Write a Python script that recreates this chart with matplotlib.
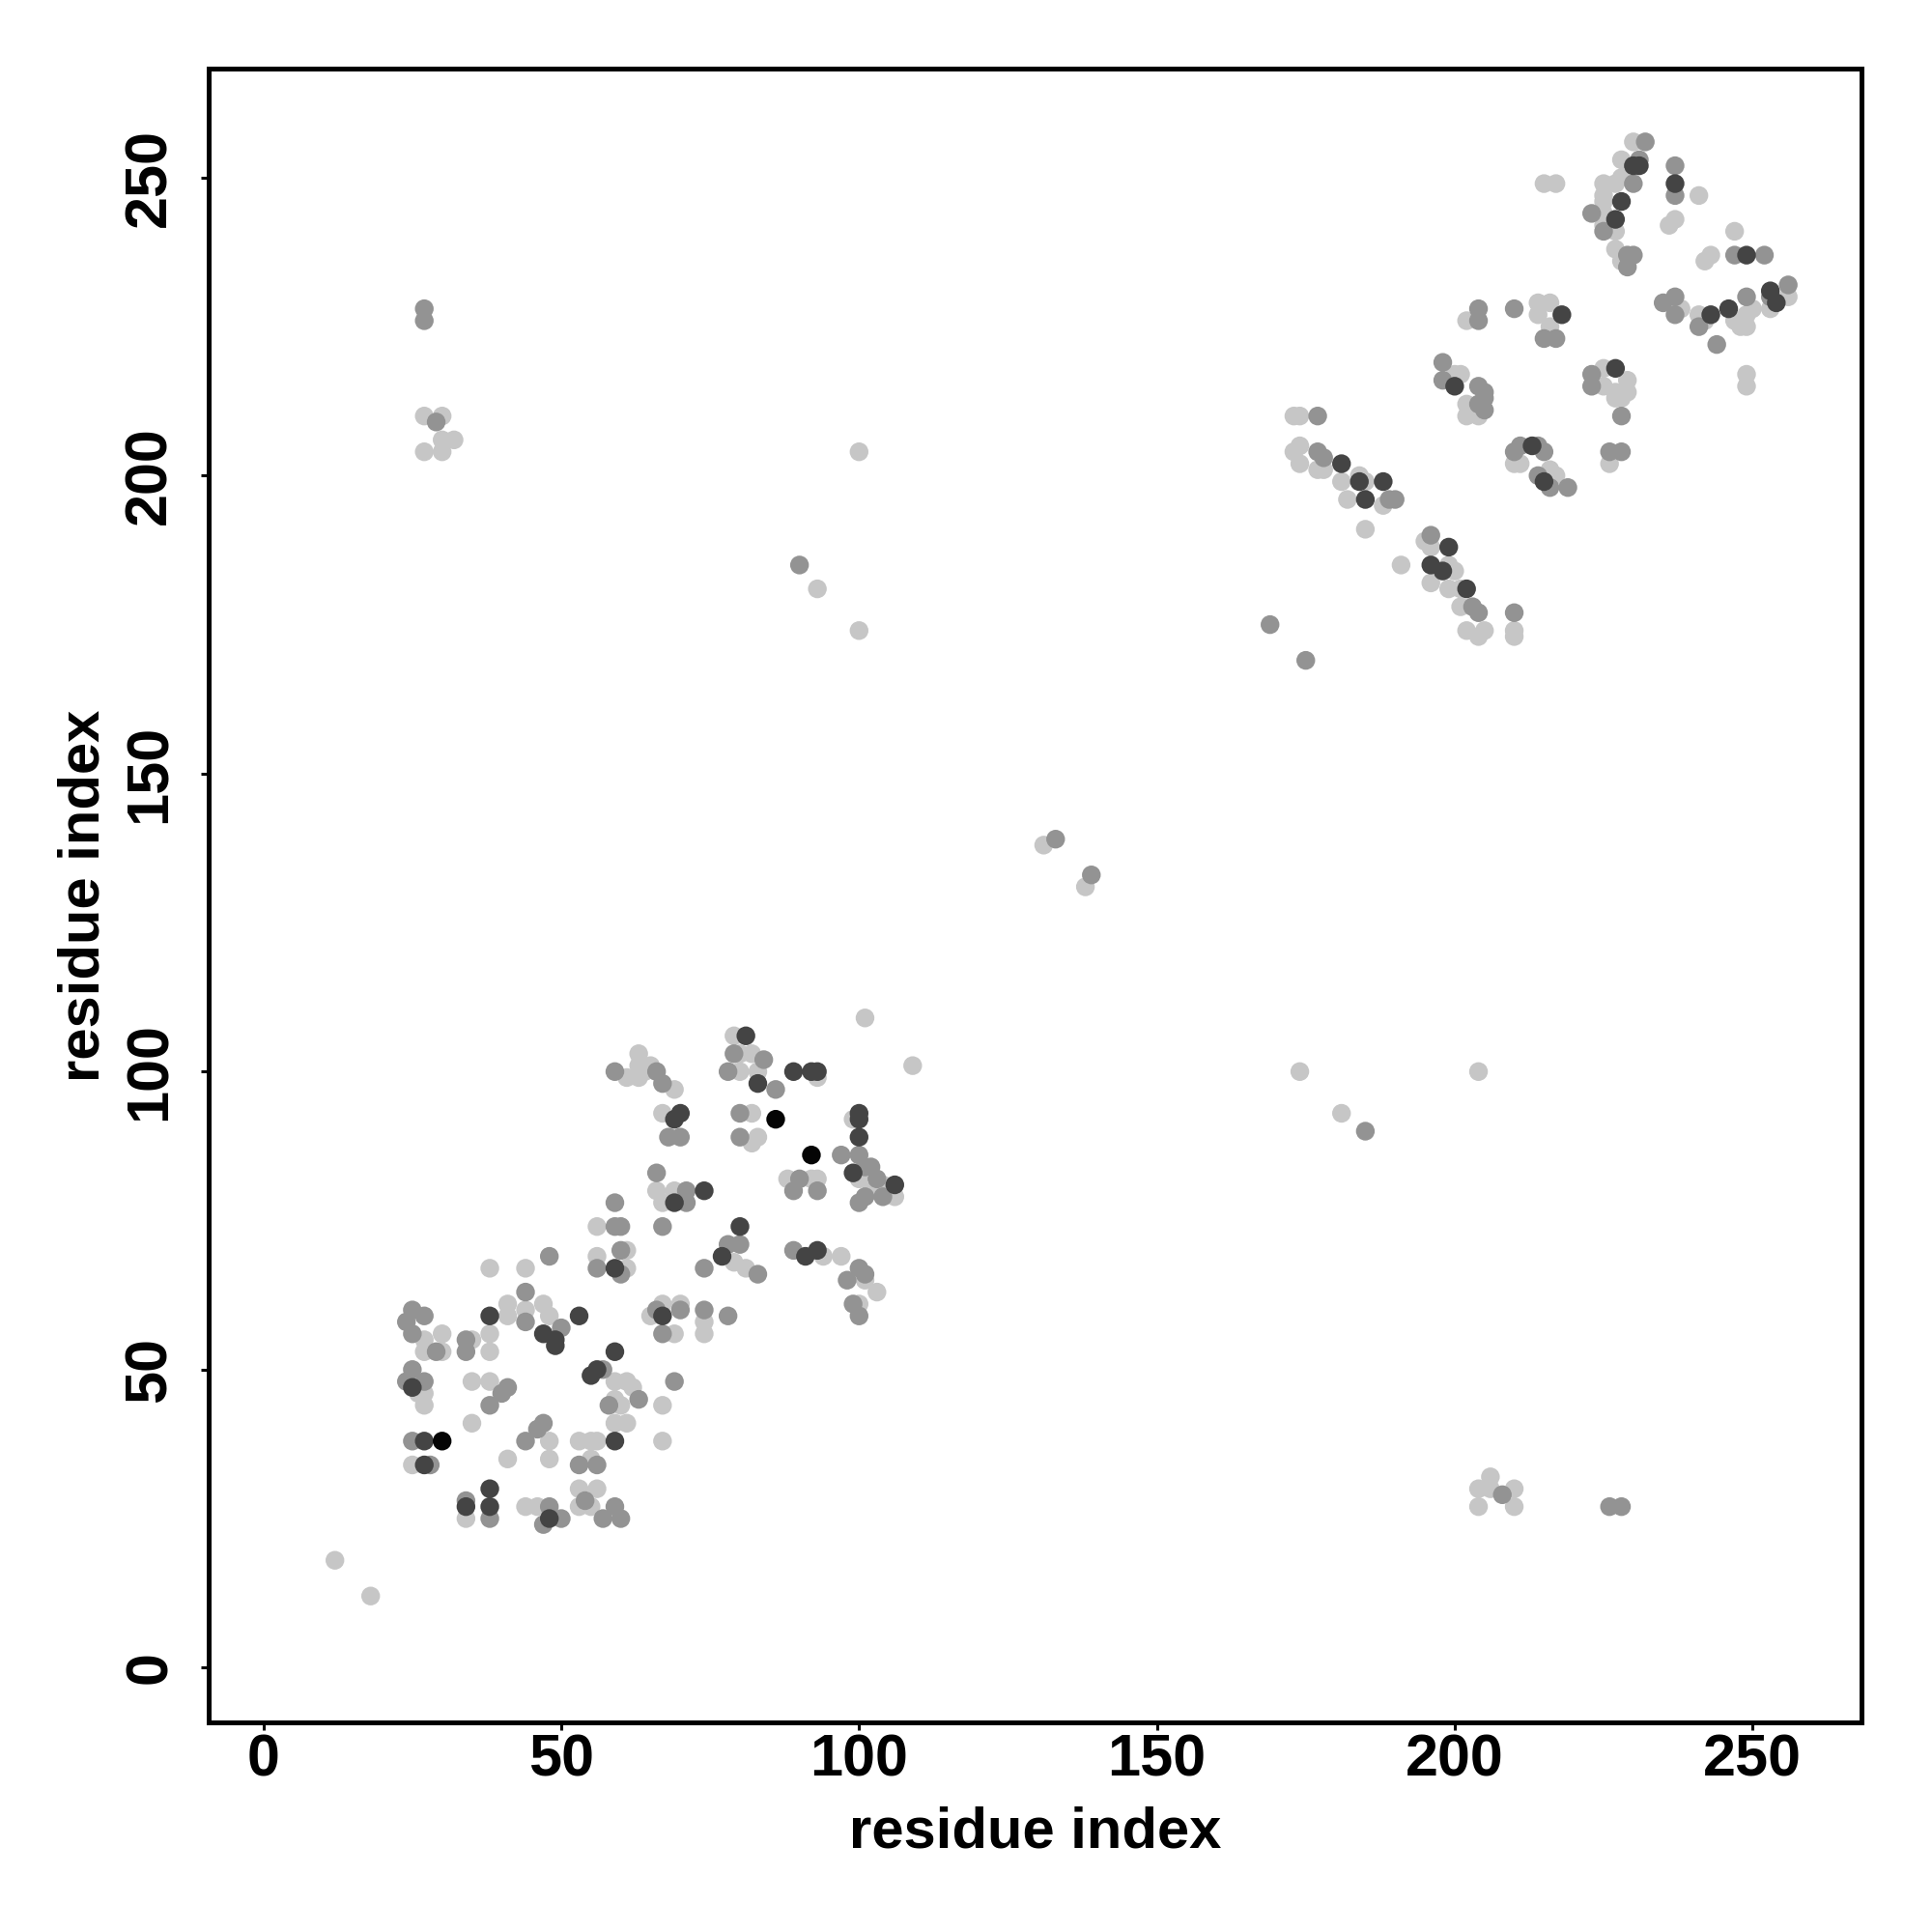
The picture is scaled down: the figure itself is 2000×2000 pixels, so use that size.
import matplotlib
matplotlib.use("Agg")
import matplotlib.pyplot as plt
from matplotlib.colors import LinearSegmentedColormap

# contact map, residue i vs residue j, grouped by shade level (contact score)
score_levels = [0.0, 0.26, 0.66, 0.97]

light_i = [12, 18, 27, 30, 32, 30, 27, 30, 100, 93, 100, 131, 138, 174, 181, 204, 101, 109,
           206, 204, 206, 210, 204, 210,
           61, 63, 63, 63, 56, 61, 56, 61, 38, 44, 79, 80, 82, 80, 83, 93, 67, 69, 65, 64,
           82, 83, 82, 99, 88, 92, 93, 100, 106, 102, 104, 66, 69, 67, 79, 81, 94, 97, 101,
           27, 30, 30, 27, 35, 38, 38, 41, 41, 44, 47, 48, 59, 61, 62, 59, 60, 59, 61, 26, 27,
           27, 35, 38, 35, 25, 48, 41, 48, 53, 55, 56, 55, 34, 44, 46, 53, 56, 53, 55,
           67, 65, 69, 70, 74, 74, 67, 67, 100, 103,
           202, 200, 201, 202, 203, 230, 228, 215, 217, 225, 227, 228, 241, 225, 225, 227, 225,
           225, 236, 237, 227, 228, 247, 243, 242, 214, 216, 214, 216, 238, 241, 242, 247, 248,
           249, 249, 256, 253, 250, 249, 249, 225, 229, 229, 227, 225,
           202, 204, 210, 174, 173, 174, 173, 174, 177, 178, 181, 184, 185, 182, 188, 185, 195,
           196, 191, 199, 200, 196, 199, 201, 201, 202, 204, 205, 210, 210,
           228, 227, 226, 211, 216, 217]
light_j = [18, 12, 210, 210, 206, 206, 204, 204, 204, 181, 174, 138, 131, 100, 93, 100, 109, 101,
           32, 30, 30, 30, 27, 27,
           99, 103, 101, 99, 74, 70, 69, 67, 67, 67, 106, 103, 103, 100, 100, 99, 93, 97, 101, 100,
           93, 89, 88, 92, 82, 82, 82, 82, 79, 80, 81, 80, 80, 78, 68, 67, 69, 69, 65,
           55, 56, 53, 53, 55, 56, 53, 59, 61, 60, 61, 59, 48, 48, 47, 45, 44, 41, 41, 46, 46,
           44, 48, 48, 41, 34, 38, 35, 35, 38, 38, 38, 35, 25, 27, 27, 30, 30, 27, 27,
           61, 59, 56, 61, 58, 56, 44, 38, 61, 63,
           226, 217, 217, 212, 211, 256, 253, 249, 249, 249, 249, 250, 247, 244, 242, 241, 246,
           247, 242, 243, 238, 236, 241, 237, 236, 229, 229, 227, 225, 228, 227, 226, 226, 225,
           227, 225, 230, 228, 228, 217, 215, 218, 216, 214, 214, 215,
           210, 210, 202, 210, 210, 205, 204, 202, 201, 201, 199, 200, 199, 196, 195, 191, 189,
           188, 185, 185, 184, 182, 181, 181, 178, 174, 173, 174, 174, 173,
           213, 213, 202, 202, 201, 200]

gray_i = [27, 27, 29, 90, 133, 139, 169, 175, 185, 226, 228, 208,
          59, 59, 59, 60, 60, 56, 60, 48, 79, 84, 78, 86, 70, 68, 66, 67, 80, 80, 97, 100, 90,
          89, 93, 101, 102, 101, 103, 104, 100, 66, 71, 71, 67, 78, 80, 83, 74, 89, 100, 101,
          25, 27, 24, 25, 29, 34, 34, 44, 44, 50, 57, 63, 58, 25, 24, 27, 41, 40, 38, 25, 28,
          47, 46, 44, 53, 56, 38, 34, 48, 50, 47, 57, 59, 60, 54,
          66, 67, 70, 74, 78, 69, 100, 99, 98,
          204, 204, 210, 198, 198, 204, 205, 204, 205, 232, 231, 230, 237, 237, 223, 225, 229,
          229, 230, 247, 252, 215, 217, 235, 237, 237, 241, 244, 249, 253, 256, 223, 223,
          205, 210, 177, 177, 178, 189, 190, 196, 203, 204, 210,
          228, 226, 228, 211, 215, 214, 214, 216, 219]
gray_j = [228, 226, 209, 185, 139, 133, 175, 169, 90, 27, 27, 29,
          100, 78, 74, 74, 70, 67, 66, 69, 103, 102, 100, 97, 89, 89, 100, 98, 93, 89, 86, 86, 82,
          80, 80, 84, 84, 79, 82, 79, 78, 83, 80, 78, 74, 71, 71, 66, 67, 70, 67, 66,
          60, 59, 58, 56, 53, 55, 53, 63, 58, 57, 50, 45, 44, 50, 48, 48, 47, 46, 44, 38, 34,
          41, 40, 38, 34, 34, 25, 28, 27, 25, 24, 25, 27, 25, 28,
          60, 56, 60, 60, 59, 48, 59, 61, 65,
          228, 226, 228, 219, 216, 215, 214, 212, 211, 256, 253, 249, 252, 247, 244, 241, 237,
          235, 237, 237, 237, 223, 223, 229, 230, 227, 225, 222, 230, 230, 232, 217, 215,
          213, 204, 210, 204, 203, 196, 196, 190, 178, 177, 177,
          210, 204, 204, 205, 204, 205, 200, 198, 198]

dark_i = [59, 81, 83, 89, 92, 93, 70, 69, 100, 100, 100, 99, 106, 74, 69, 80, 77, 91, 93,
          38, 47, 49, 49, 53, 59, 55, 56, 59, 25, 27, 27, 38, 38, 34, 48, 67,
          200, 230, 231, 237, 228, 227, 249, 218, 243, 246, 253, 254, 227,
          181, 184, 188, 185, 199, 196, 198, 202, 213, 215]
dark_j = [67, 106, 98, 100, 100, 100, 93, 92, 93, 92, 89, 83, 81, 80, 78, 74, 69, 69, 70,
          59, 56, 55, 54, 59, 53, 49, 50, 38, 47, 38, 34, 30, 27, 27, 25, 59,
          215, 252, 252, 249, 246, 243, 237, 227, 227, 228, 231, 229, 218,
          202, 199, 199, 196, 188, 185, 184, 181, 205, 199]

black_i = [86, 92, 30]
black_j = [92, 86, 38]

groups = [(light_i, light_j), (gray_i, gray_j), (dark_i, dark_j), (black_i, black_j)]

plt.rcParams['font.family'] = ['Liberation Sans', 'DejaVu Sans']
plt.rcParams['font.weight'] = 'bold'

cmap = LinearSegmentedColormap.from_list('contact', ['#c6c6c6', '#000000'])

fig = plt.figure(figsize=(20, 20), dpi=100)
ax = fig.add_axes([0.108, 0.1085, 0.8555, 0.856])

for (gi, gj), lev in zip(groups, score_levels):
    ax.scatter(gi, gj, c=[lev] * len(gi), cmap=cmap, vmin=0, vmax=1,
               s=195, linewidths=0, zorder=2)

ax.set_xlim(-9.2, 268.3)
ax.set_ylim(-9.2, 268.3)
ticks = [0, 50, 100, 150, 200, 250]
ax.set_xticks(ticks)
ax.set_yticks(ticks)

for sp in ax.spines.values():
    sp.set_linewidth(3.6)

ax.tick_params(axis='both', direction='out', length=5.5, width=2.2, labelsize=44)
ax.tick_params(axis='x', pad=3)
ax.tick_params(axis='y', pad=17)
for lab in ax.get_yticklabels():
    lab.set_rotation(90)
    lab.set_va('center')

ax.set_xlabel('residue index', fontsize=43, fontweight='bold')
ax.xaxis.label.set_va('baseline')
ax.xaxis.set_label_coords(0.5, -0.0759)

ax.set_ylabel('residue index', fontsize=43, fontweight='bold',
              rotation=90, rotation_mode='anchor')
ax.yaxis.label.set_va('baseline')
ax.yaxis.label.set_ha('center')
ax.yaxis.set_label_coords(-0.0666, 0.5)

fig.savefig('out.png', dpi=100, facecolor='white')
